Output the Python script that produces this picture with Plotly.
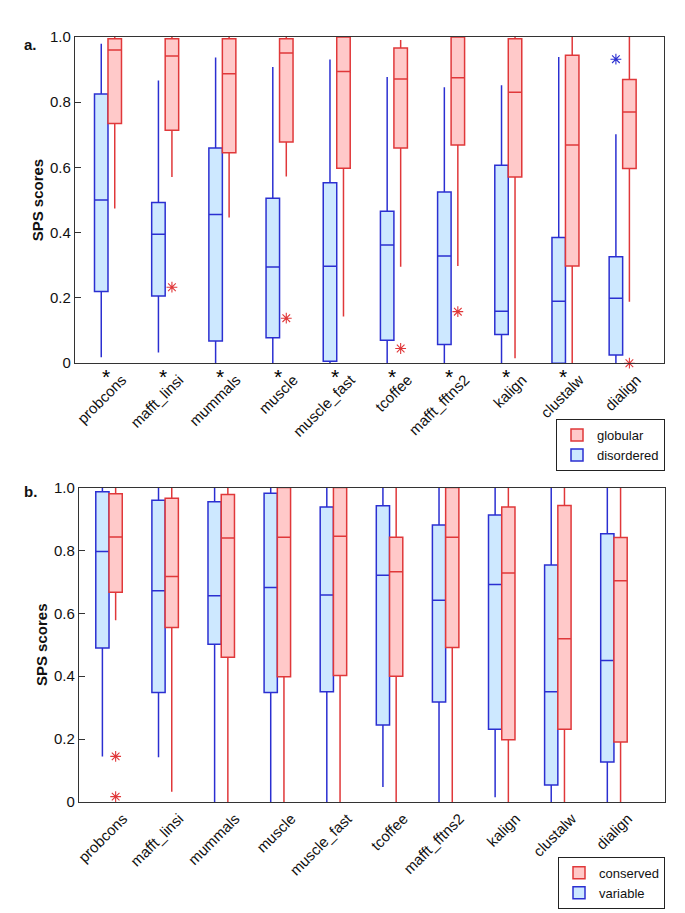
import plotly.graph_objects as go

methods = ["probcons", "mafft_linsi", "mummals", "muscle", "muscle_fast",
           "tcoffee", "mafft_fftns2", "kalign", "clustalw", "dialign"]

# panel a: disordered (blue)
dis_lo = [0.018, 0.033, 0.0, 0.0, 0.0, 0.0, 0.0, 0.0, 0.0, 0.0]
dis_q1 = [0.22, 0.206, 0.068, 0.078, 0.006, 0.07, 0.057, 0.088, 0.0, 0.025]
dis_med = [0.50, 0.395, 0.456, 0.295, 0.297, 0.362, 0.329, 0.159, 0.19, 0.199]
dis_q3 = [0.825, 0.493, 0.66, 0.506, 0.553, 0.466, 0.525, 0.607, 0.385, 0.326]
dis_hi = [0.979, 0.867, 0.937, 0.908, 0.931, 0.877, 0.846, 0.852, 0.939, 0.702]
dis_out = [[], [], [], [], [], [], [], [], [], [0.932]]

# panel a: globular (red)
glob_lo = [0.474, 0.571, 0.447, 0.572, 0.143, 0.296, 0.298, 0.015, 0.0, 0.188]
glob_q1 = [0.735, 0.714, 0.645, 0.678, 0.598, 0.66, 0.669, 0.571, 0.298, 0.597]
glob_med = [0.96, 0.942, 0.887, 0.951, 0.894, 0.871, 0.875, 0.831, 0.669, 0.77]
glob_q3 = [0.995, 0.995, 0.995, 0.995, 1.0, 0.966, 1.0, 0.995, 0.944, 0.87]
glob_hi = [1.0, 1.0, 1.0, 1.0, 1.0, 0.991, 1.0, 1.0, 1.0, 1.0]
glob_out = [[], [0.233], [], [0.138], [], [0.045], [0.158], [], [], [0.0]]

# significance stars under panel a
sig_a = ["probcons", "mafft_linsi", "mummals", "muscle", "muscle_fast",
         "tcoffee", "mafft_fftns2", "kalign", "clustalw"]

# panel b: variable (blue)
var_lo = [0.145, 0.142, 0.0, 0.0, 0.0, 0.048, 0.0, 0.015, 0.0, 0.0]
var_q1 = [0.49, 0.348, 0.502, 0.348, 0.351, 0.245, 0.318, 0.231, 0.054, 0.127]
var_med = [0.797, 0.672, 0.656, 0.682, 0.658, 0.721, 0.642, 0.692, 0.351, 0.45]
var_q3 = [0.987, 0.96, 0.955, 0.982, 0.938, 0.942, 0.881, 0.913, 0.754, 0.853]
var_hi = [1.0] * 10
var_out = [[] for _ in methods]

# panel b: conserved (red)
con_lo = [0.578, 0.033, 0.0, 0.0, 0.0, 0.0, 0.0, 0.0, 0.0, 0.0]
con_q1 = [0.667, 0.555, 0.46, 0.398, 0.402, 0.4, 0.491, 0.198, 0.231, 0.191]
con_med = [0.843, 0.717, 0.84, 0.842, 0.845, 0.732, 0.842, 0.728, 0.519, 0.704]
con_q3 = [0.98, 0.966, 0.978, 1.0, 1.0, 0.842, 1.0, 0.938, 0.943, 0.841]
con_hi = [1.0] * 10
con_out = [[0.145, 0.017], [], [], [], [], [], [], [], [], []]

BLUE = "#2b2fd1"
BLUE_FILL = "#cde8ff"
RED = "#e0383a"
RED_FILL = "#ffc9c9"
FONT = "Liberation Sans, Arial, sans-serif"

BOXW = 0.236          # width of one box, in group units
pos = list(range(len(methods)))


def box(name, side, lo, q1, med, q3, hi, line, fill, xa, ya, legend):
    return go.Box(
        name=name, x=[p + side * BOXW / 2 for p in pos], width=BOXW,
        lowerfence=lo, q1=q1, median=med, q3=q3, upperfence=hi,
        line=dict(color=line, width=1.5), fillcolor=fill,
        whiskerwidth=0, hoverinfo="skip",
        xaxis=xa, yaxis=ya, legend=legend,
    )


def outliers(out, side, color, xa, ya):
    xs, ys = [], []
    for i, vals in enumerate(out):
        for v in vals:
            xs.append(pos[i] + side * BOXW / 2)
            ys.append(v)
    return go.Scatter(
        x=xs, y=ys, mode="markers", showlegend=False, cliponaxis=False,
        marker=dict(symbol="asterisk-open", size=9, color=color,
                    line=dict(color=color, width=1.1)),
        xaxis=xa, yaxis=ya,
    )


fig = go.Figure()
fig.add_trace(box("disordered", -1, dis_lo, dis_q1, dis_med, dis_q3, dis_hi,
                  BLUE, BLUE_FILL, "x", "y", "legend"))
fig.add_trace(box("globular", 1, glob_lo, glob_q1, glob_med, glob_q3, glob_hi,
                  RED, RED_FILL, "x", "y", "legend"))
fig.add_trace(box("variable", -1, var_lo, var_q1, var_med, var_q3, var_hi,
                  BLUE, BLUE_FILL, "x2", "y2", "legend2"))
fig.add_trace(box("conserved", 1, con_lo, con_q1, con_med, con_q3, con_hi,
                  RED, RED_FILL, "x2", "y2", "legend2"))
fig.add_trace(outliers(dis_out, -1, BLUE, "x", "y"))
fig.add_trace(outliers(glob_out, 1, RED, "x", "y"))
fig.add_trace(outliers(var_out, -1, BLUE, "x2", "y2"))
fig.add_trace(outliers(con_out, 1, RED, "x2", "y2"))

yticks = [0, 0.2, 0.4, 0.6, 0.8, 1.0]
ylabels = ["0", "0.2", "0.4", "0.6", "0.8", "1.0"]

axis_common = dict(showline=True, mirror=True, linecolor="#333", linewidth=1.3,
                   showgrid=False, zeroline=False)

xa = dict(axis_common, tickvals=pos, ticktext=methods, tickangle=-45, ticks="",
          ticklabelshift=14, ticklabelstandoff=1,
          tickfont=dict(size=15, color="#111", family=FONT))
ya = dict(axis_common, range=[0, 1], tickvals=yticks, ticktext=ylabels,
          ticks="inside", ticklen=6, tickcolor="#333",
          tickfont=dict(size=15, color="#111", family=FONT),
          title=dict(text="<b>SPS scores</b>", font=dict(size=15, family=FONT, color="#111"),
                     standoff=2))

annotations = []
for m in sig_a:
    annotations.append(dict(x=methods.index(m), y=0, xref="x", yref="y", text="*",
                            showarrow=False, yanchor="top", yshift=0, xshift=-2,
                            font=dict(size=21, color="black", family=FONT)))
annotations.append(dict(x=-0.075, y=0.99, xref="paper", yref="paper", text="<b>a.</b>",
                        xanchor="center", yanchor="middle", showarrow=False,
                        font=dict(size=15, family=FONT, color="#111")))
annotations.append(dict(x=-0.075, y=0.406, xref="paper", yref="paper", text="<b>b.</b>",
                        xanchor="center", yanchor="middle", showarrow=False,
                        font=dict(size=15, family=FONT, color="#111")))

legend_common = dict(bgcolor="white", bordercolor="#222", borderwidth=1,
                     traceorder="reversed", xanchor="right", yanchor="top",
                     font=dict(size=13, family=FONT, color="#111"),
                     tracegroupgap=0)

fig.update_layout(
    width=685, height=913,
    margin=dict(l=67, r=28, t=29, b=103),
    paper_bgcolor="white", plot_bgcolor="white",
    font=dict(family=FONT, color="#111"),
    boxmode="overlay",
    xaxis=dict(xa, domain=[0, 0.998], range=[-0.577, 9.72], anchor="y"),
    yaxis=dict(ya, domain=[0.5736, 1], anchor="x"),
    xaxis2=dict(xa, domain=[0.0068, 1], range=[-0.535, 9.91], anchor="y2"),
    yaxis2=dict(ya, domain=[0, 0.411], anchor="x2"),
    legend=dict(legend_common, x=1, y=0.5006),
    legend2=dict(legend_common, x=1, y=-0.0717),
    annotations=annotations,
    showlegend=True,
)

fig.write_html("out.html")
